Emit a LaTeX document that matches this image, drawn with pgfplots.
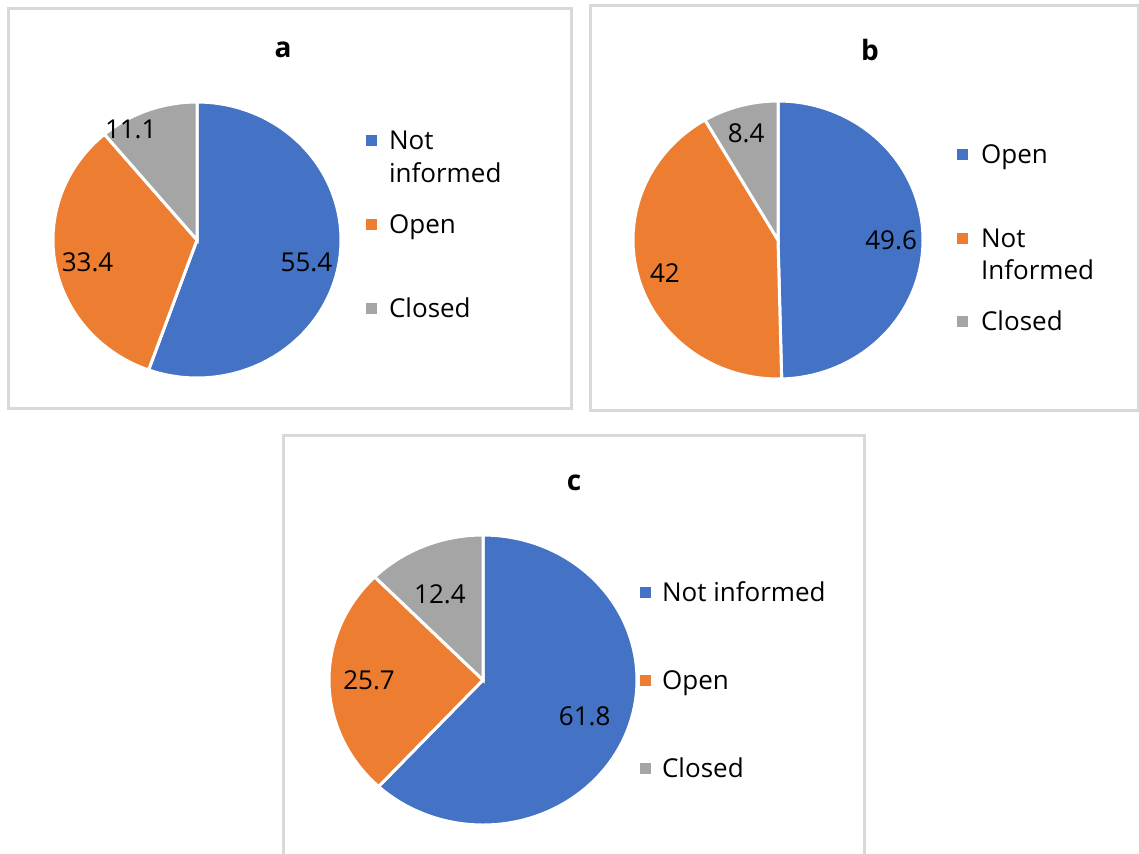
\documentclass[border=0pt]{standalone}
\usepackage{fontspec}
\setmainfont{Open Sans}
\usepackage{pgfplots}
\usepackage{pgfplotstable}
\pgfplotsset{compat=1.18}
\definecolor{cblue}{HTML}{4472C4}
\definecolor{corange}{HTML}{ED7D31}
\definecolor{cgray}{HTML}{A5A5A5}
\definecolor{cframe}{HTML}{D9D9D9}

% panel a
\pgfplotstableread{
cat value
NotInformed 55.4
Open 33.4
Closed 11.1
}\dataA
% panel b
\pgfplotstableread{
cat value
Open 49.6
NotInformed 42
Closed 8.4
}\dataB
% panel c
\pgfplotstableread{
cat value
NotInformed 61.8
Open 25.7
Closed 12.4
}\dataC

\newcommand\getangles[1]{%
 \pgfplotstablegetelem{0}{value}\of#1\let\vA\pgfplotsretval
 \pgfplotstablegetelem{1}{value}\of#1\let\vB\pgfplotsretval
 \pgfplotstablegetelem{2}{value}\of#1\let\vC\pgfplotsretval
 \pgfmathsetmacro\tot{\vA+\vB+\vC}%
 \pgfmathsetmacro\angA{90-\vA/\tot*360}%
 \pgfmathsetmacro\angB{\angA-\vB/\tot*360}%
}
\newcommand\lbl{\fontsize{13pt}{15pt}\selectfont}
\newcommand\ttl{\fontsize{14pt}{16pt}\selectfont\bfseries}

\pgfplotsset{
 pie/.style={hide axis, scale only axis, clip=false,
  xmin=-1, xmax=1, ymin=-1, ymax=1, anchor=center},
 wedge/.style={fill=#1, draw=white, line width=1.5pt, samples=90, variable=\t},
}

\begin{document}
\begin{tikzpicture}
\begin{scope}[x=0.5pt,y=-0.5pt]
\useasboundingbox (0,0) rectangle (1139,853);
\draw[cframe, line width=1.5pt] (8,8) rectangle (571,408);
\draw[cframe, line width=1.5pt] (590,5) rectangle (1138,410);
\draw[cframe, line width=1.5pt] (283,435) rectangle (864,870);
% titles
\node[font=\ttl] at (283,50) {a};
\node[font=\ttl] at (870,50) {b};
\node[font=\ttl] at (574,483) {c};
% legend a
\fill[cblue] (366,135) rectangle (377,146);
\node[font=\lbl, anchor=base west] at (382,149) {Not};
\node[font=\lbl, anchor=base west] at (382,182) {informed};
\fill[corange] (366,219) rectangle (377,230);
\node[font=\lbl, anchor=base west] at (382,233) {Open};
\fill[cgray] (366,303) rectangle (377,314);
\node[font=\lbl, anchor=base west] at (382,317) {Closed};
% legend b
\fill[cblue] (957,149) rectangle (968,160);
\node[font=\lbl, anchor=base west] at (974,163) {Open};
\fill[corange] (957,233) rectangle (968,244);
\node[font=\lbl, anchor=base west] at (974,247) {Not};
\node[font=\lbl, anchor=base west] at (974,279) {Informed};
\fill[cgray] (957,316) rectangle (968,327);
\node[font=\lbl, anchor=base west] at (974,330) {Closed};
% legend c
\fill[cblue] (640,587) rectangle (651,598);
\node[font=\lbl, anchor=base west] at (655,601) {Not informed};
\fill[corange] (640,675) rectangle (651,686);
\node[font=\lbl, anchor=base west] at (655,689) {Open};
\fill[cgray] (640,763) rectangle (651,774);
\node[font=\lbl, anchor=base west] at (655,777) {Closed};
\end{scope}

% ---- pie a
\getangles{\dataA}
\begin{axis}[pie, width=144pt, height=138pt, at={(98.5pt,-120pt)}]
\addplot[wedge=cblue, domain=\angA:90] ({cos(\t)},{sin(\t)}) -- (axis cs:0,0) -- cycle;
\addplot[wedge=corange, domain=\angB:\angA] ({cos(\t)},{sin(\t)}) -- (axis cs:0,0) -- cycle;
\addplot[wedge=cgray, domain=-270:\angB] ({cos(\t)},{sin(\t)}) -- (axis cs:0,0) -- cycle;
\node[font=\lbl] at (axis cs:0.76,-0.16) {55.4};
\node[font=\lbl] at (axis cs:-0.76,-0.16) {33.4};
\node[font=\lbl] at (axis cs:-0.46,0.80) {11.1};
\end{axis}

% ---- pie b
\getangles{\dataB}
\begin{axis}[pie, width=145pt, height=139pt, at={(389pt,-120pt)}]
\addplot[wedge=cblue, domain=\angA:90] ({cos(\t)},{sin(\t)}) -- (axis cs:0,0) -- cycle;
\addplot[wedge=corange, domain=\angB:\angA] ({cos(\t)},{sin(\t)}) -- (axis cs:0,0) -- cycle;
\addplot[wedge=cgray, domain=-270:\angB] ({cos(\t)},{sin(\t)}) -- (axis cs:0,0) -- cycle;
\node[font=\lbl] at (axis cs:0.78,0) {49.6};
\node[font=\lbl] at (axis cs:-0.78,-0.24) {42};
\node[font=\lbl] at (axis cs:-0.22,0.77) {8.4};
\end{axis}

% ---- pie c
\getangles{\dataC}
\begin{axis}[pie, width=154pt, height=145pt, at={(241.5pt,-340pt)}]
\addplot[wedge=cblue, domain=\angA:90] ({cos(\t)},{sin(\t)}) -- (axis cs:0,0) -- cycle;
\addplot[wedge=corange, domain=\angB:\angA] ({cos(\t)},{sin(\t)}) -- (axis cs:0,0) -- cycle;
\addplot[wedge=cgray, domain=-270:\angB] ({cos(\t)},{sin(\t)}) -- (axis cs:0,0) -- cycle;
\node[font=\lbl] at (axis cs:0.66,-0.25) {61.8};
\node[font=\lbl] at (axis cs:-0.74,0) {25.7};
\node[font=\lbl] at (axis cs:-0.28,0.59) {12.4};
\end{axis}
\end{tikzpicture}
\end{document}
